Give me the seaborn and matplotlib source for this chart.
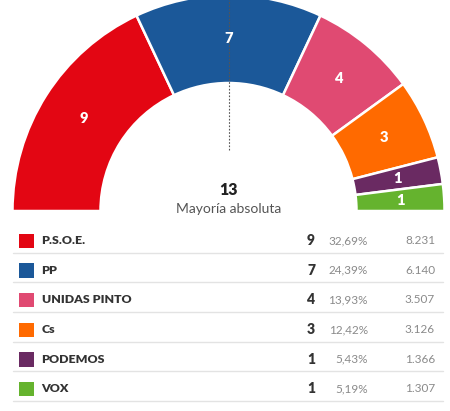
import numpy as np
import matplotlib
matplotlib.use("Agg")
import matplotlib.pyplot as plt
import seaborn as sns

parties = ["P.S.O.E.", "PP", "UNIDAS PINTO", "Cs", "PODEMOS", "VOX"]
seats = [9, 7, 4, 3, 1, 1]
percents = ["32,69%", "24,39%", "13,93%", "12,42%", "5,43%", "5,19%"]
votes = ["8.231", "6.140", "3.507", "3.126", "1.366", "1.307"]
colors = ["#e30613", "#1b5899", "#e04a72", "#ff6a00", "#6a2a62", "#65b32e"]
majority = 13
majority_label = "Mayoría absoluta"

sns.set_theme(style="white")
plt.rcParams["font.family"] = ["Lato", "DejaVu Sans"]

W, H = 450, 411
fig = plt.figure(figsize=(W / 100, H / 100), dpi=100)

# --- hemicycle ---
cx, cy, R, r_in = 228.5, 211, 216, 128
axp = fig.add_axes([(cx - R) / W, (H - cy - R) / H, 2 * R / W, 2 * R / H])
total = sum(seats)
vals = seats + [total]
cols = colors + [(1, 1, 1, 0)]
wedges, _ = axp.pie(vals, colors=cols, startangle=180, counterclock=False,
                    radius=1, wedgeprops=dict(width=(R - r_in) / R,
                                              edgecolor="white", linewidth=1.8))
wedges[-1].set_edgecolor((1, 1, 1, 0))
axp.set_xlim(-1, 1)
axp.set_ylim(-1, 1)
axp.set_aspect("equal")
axp.axis("off")
mid_r = (R + r_in) / 2 / R
cum = np.cumsum([0] + seats)
for i, s in enumerate(seats):
    ang = np.deg2rad(180 - (cum[i] + s / 2) / total * 180)
    axp.text(mid_r * np.cos(ang), mid_r * np.sin(ang), str(s), color="white",
             fontsize=10.5, fontweight="heavy", ha="center", va="center")
axp.plot([0, 0], [(211 - 150) / R, 1.05],
         color="#555555", linestyle=(0, (1.5, 1.5)), linewidth=0.8)

# --- overlay in pixel coordinates ---
ax = fig.add_axes([0, 0, 1, 1])
ax.set_xlim(0, W)
ax.set_ylim(H, 0)
ax.axis("off")
ax.text(cx, 190, str(majority), fontsize=11.5, fontweight="heavy",
        color="#222222", ha="center", va="center")
ax.text(cx, 208.5, majority_label, fontsize=10, color="#555555",
        ha="center", va="center")

row0, step = 240.7, 29.6
for i, p in enumerate(parties):
    y = row0 + i * step
    ax.add_patch(plt.Rectangle((19, y - 7), 14.5, 14.5, color=colors[i], lw=0))
    ax.text(41.5, y, p, fontsize=8.9, fontweight="heavy", color="#333333",
            ha="left", va="center")
    ax.text(315, y, str(seats[i]), fontsize=10, fontweight="heavy",
            color="#333333", ha="right", va="center")
    ax.text(368, y, percents[i], fontsize=8.5, color="#8a8a8a",
            ha="right", va="center")
    ax.text(435, y, votes[i], fontsize=8.5, color="#8a8a8a",
            ha="right", va="center")
    ax.plot([12.5, 443], [y + 12, y + 12], color="#e3e3e3", linewidth=1)

fig.savefig("out.png", dpi=100)
